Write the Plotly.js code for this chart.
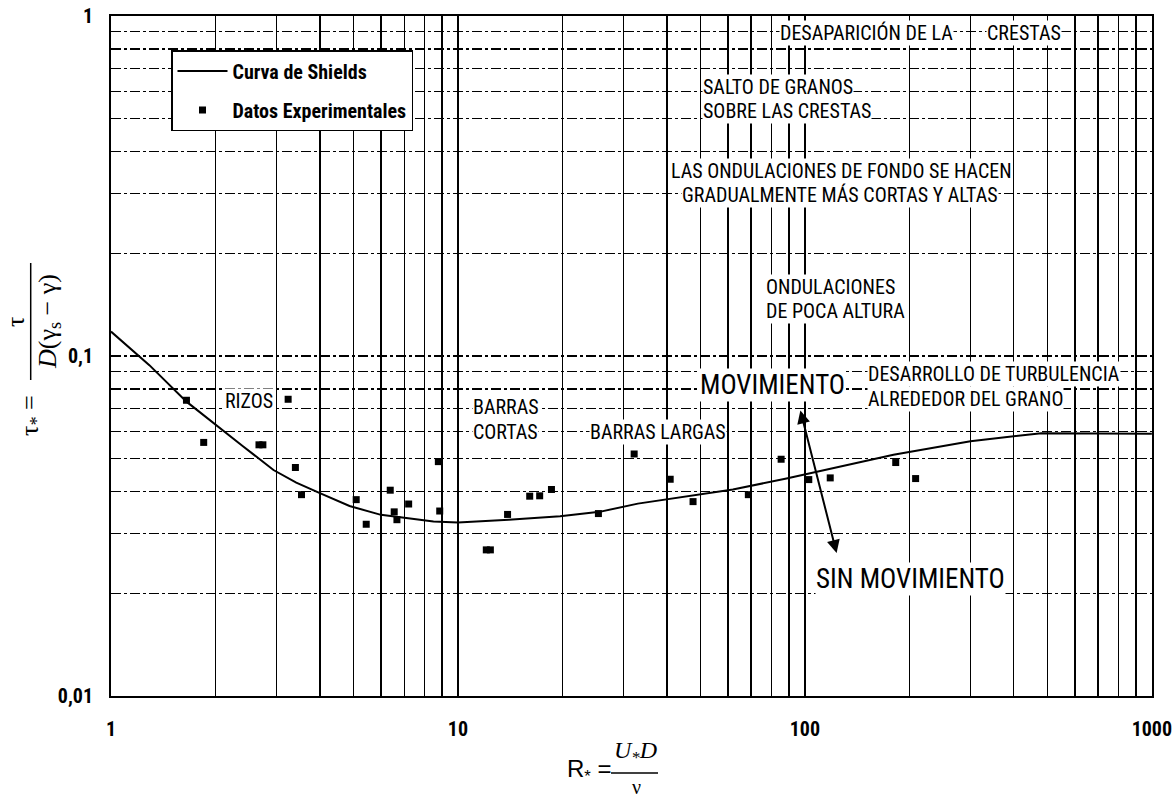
<!DOCTYPE html>
<html>
<head>
<meta charset="utf-8">
<script src="https://cdn.plot.ly/plotly-3.0.1.min.js"></script>
<style>
  html, body { margin: 0; padding: 0; background: #fff; }
  #chart { width: 1172px; height: 802px; }
</style>
</head>
<body>
<div id="chart"></div>
<script>
// ---- Data ----
const shieldsX = [1, 1.29, 1.65, 2, 2.4, 2.94, 3.42, 4, 4.87, 6, 8.5, 10, 14, 19.7, 25.6, 33, 50.6, 62, 88.5, 130, 180, 300, 480, 1000];
const shieldsY = [0.118, 0.094, 0.0734, 0.0627, 0.0543, 0.0462, 0.0424, 0.0395, 0.0362, 0.0341, 0.0326, 0.0324, 0.033, 0.0338, 0.0348, 0.0368, 0.0393, 0.0405, 0.0436, 0.0475, 0.0512, 0.0561, 0.0593, 0.0591];

const expX = [1.65, 1.85, 2.67, 2.74, 3.24, 3.40, 3.54, 5.09, 5.44, 6.38, 6.55, 6.67, 7.21, 8.78, 8.86, 12.07, 12.4, 13.9, 16.1, 17.2, 18.6, 25.4, 32.2, 40.9, 47.6, 68.7, 85.4, 102.6, 118.3, 182.7, 208.5];
const expY = [0.0741, 0.0557, 0.0548, 0.0548, 0.0746, 0.047, 0.0391, 0.0378, 0.032, 0.0403, 0.0348, 0.033, 0.0367, 0.0489, 0.035, 0.0269, 0.0269, 0.0342, 0.0387, 0.0388, 0.0405, 0.0344, 0.0515, 0.0434, 0.0373, 0.0391, 0.0497, 0.0433, 0.0438, 0.0486, 0.0436];

const xTickVals = [1, 10, 100, 1000];
const xTickText = ['1', '10', '100', '1000'];
const xMinorVals = [2,3,4,5,6,7,8,9,20,30,40,50,60,70,80,90,200,300,400,500,600,700,800,900];
const yTickVals = [0.01, 0.1, 1];
const yTickText = ['0,01', '0,1', '1'];
const yMinorVals = [0.02,0.03,0.04,0.05,0.06,0.07,0.08,0.09,0.2,0.3,0.4,0.5,0.6,0.7,0.8,0.9];

const legendNames = ['Curva de Shields', 'Datos Experimentales'];

// ---- Layout helpers (pixel -> paper) ----
const W = 1172, H = 802;
const M = {l: 111, r: 20, t: 16, b: 106};
const PW = W - M.l - M.r, PH = H - M.t - M.b;
const px = v => (v - M.l) / PW;
const py = v => (H - M.b - v) / PH;

const NARROW = '"Roboto Condensed", "DejaVu Sans Condensed", "Liberation Sans", sans-serif';
const SERIF = '"Liberation Serif", "Times New Roman", serif';
const SANS = '"Liberation Sans", Arial, sans-serif';
const annSize = 20, bigSize = 27, tickSize = 20, legSize = 20;

function label(text, x, y, opts) {
  opts = opts || {};
  return {
    text: text, xref: 'paper', yref: 'paper', x: px(x), y: py(y),
    xanchor: opts.anchor || 'center', yanchor: 'middle', showarrow: false,
    font: {family: NARROW, size: opts.size || annSize, color: '#000'},
    bgcolor: '#fff', borderpad: 0
  };
}

const annotations = [
  label('DESAPARICIÓN DE LA', 866, 33),
  label('CRESTAS', 1024, 33),
  label('SALTO DE GRANOS', 702, 87.5, {anchor: 'left'}),
  label('SOBRE LAS CRESTAS', 702, 111.5, {anchor: 'left'}),
  label('LAS ONDULACIONES DE FONDO SE HACEN', 841, 171),
  label('GRADUALMENTE MÁS CORTAS Y ALTAS', 840, 195),
  label('ONDULACIONES', 765, 286.5, {anchor: 'left'}),
  label('DE POCA ALTURA', 765, 310.5, {anchor: 'left'}),
  label('MOVIMIENTO', 772, 385, {size: bigSize}),
  label('DESARROLLO DE TURBULENCIA', 867, 373.5, {anchor: 'left'}),
  label('ALREDEDOR DEL GRANO', 867, 399, {anchor: 'left'}),
  label('RIZOS', 249, 401),
  label('BARRAS', 472, 407.5, {anchor: 'left'}),
  label('CORTAS', 472, 431.5, {anchor: 'left'}),
  label('BARRAS LARGAS', 589, 431.5, {anchor: 'left'}),
  label('SIN MOVIMIENTO', 910, 579, {size: bigSize}),
  // double arrow MOVIMIENTO / SIN MOVIMIENTO
  {text: '', xref: 'paper', yref: 'paper', x: px(836.6), y: py(553),
   ax: -36.6, ay: -144, showarrow: true, arrowhead: 2, startarrowhead: 2,
   arrowside: 'end+start', arrowsize: 1.3, arrowwidth: 2, arrowcolor: '#000'},
  // y-axis title (built from pieces)
  {text: 'τ<sub>*</sub> =', xref: 'paper', yref: 'paper', x: px(31), y: py(416),
   textangle: -90, showarrow: false, xanchor: 'center', yanchor: 'middle',
   font: {family: SERIF, size: 26, color: '#000'}},
  {text: 'τ', xref: 'paper', yref: 'paper', x: px(16), y: py(322),
   textangle: -90, showarrow: false, xanchor: 'center', yanchor: 'middle',
   font: {family: SERIF, size: 26, color: '#000'}},
  {text: '<i>D</i>(γ<sub>s</sub> − γ)', xref: 'paper', yref: 'paper', x: px(49), y: py(322),
   textangle: -90, showarrow: false, xanchor: 'center', yanchor: 'middle',
   font: {family: SERIF, size: 26, color: '#000'}},
  // x-axis title (built from pieces)
  {text: 'R<sub>*</sub> =', xref: 'paper', yref: 'paper', x: px(589), y: py(770),
   showarrow: false, xanchor: 'center', yanchor: 'middle',
   font: {family: SANS, size: 24, color: '#000'}},
  {text: '<i>U<sub>*</sub>D</i>', xref: 'paper', yref: 'paper', x: px(635), y: py(752),
   showarrow: false, xanchor: 'center', yanchor: 'middle',
   font: {family: SERIF, size: 24, color: '#000'}},
  {text: 'ν', xref: 'paper', yref: 'paper', x: px(636), y: py(787),
   showarrow: false, xanchor: 'center', yanchor: 'middle',
   font: {family: SERIF, size: 20, color: '#000'}}
];

const shapes = [
  {type: 'line', xref: 'paper', yref: 'paper', x0: px(30.7), x1: px(30.7), y0: py(263), y1: py(380),
   line: {color: '#000', width: 1.5}},
  {type: 'line', xref: 'paper', yref: 'paper', x0: px(611), x1: px(658), y0: py(773), y1: py(773),
   line: {color: '#000', width: 1.5}}
];

const traces = [
  {x: shieldsX, y: shieldsY, type: 'scatter', mode: 'lines', name: legendNames[0],
   line: {color: '#000', width: 2}, legendgroup: 'a'},
  {x: expX, y: expY, type: 'scatter', mode: 'markers', name: legendNames[1],
   marker: {symbol: 'square', size: 7, color: '#000'}, legendgroup: 'b'}
];

const gridDash = '10px,3px,3px,3px';
const layout = {
  width: W, height: H,
  margin: M,
  paper_bgcolor: '#fff', plot_bgcolor: '#fff',
  showlegend: true,
  legend: {x: px(171), y: py(50), xanchor: 'left', yanchor: 'top',
    bgcolor: '#fff', bordercolor: '#000', borderwidth: 1.5,
    font: {family: NARROW, size: legSize, color: '#000', weight: 'bold'},
    tracegroupgap: 10, traceorder: 'grouped', itemwidth: 50},
  xaxis: {
    type: 'log', range: [0, 3.0004],
    tickvals: xTickVals, ticktext: xTickText, ticks: '',
    tickfont: {family: NARROW, size: tickSize, color: '#000', weight: 'bold'},
    ticklabelstandoff: 14, ticklabeloverflow: 'allow',
    showgrid: true, gridcolor: '#000', gridwidth: 1.4,
    minor: {tickvals: xMinorVals, showgrid: true, gridcolor: '#000', gridwidth: 1.4, ticks: ''},
    showline: true, linecolor: '#000', linewidth: 2, mirror: true, zeroline: false
  },
  yaxis: {
    type: 'log', range: [-2, 0],
    tickvals: yTickVals, ticktext: yTickText, ticks: '',
    tickfont: {family: NARROW, size: tickSize, color: '#000', weight: 'bold'},
    ticklabelstandoff: 12,
    showgrid: true, gridcolor: '#000', gridwidth: 1.2, griddash: gridDash,
    minor: {tickvals: yMinorVals, showgrid: true, gridcolor: '#000', gridwidth: 1.2,
            griddash: gridDash, ticks: ''},
    showline: true, linecolor: '#000', linewidth: 2, mirror: true, zeroline: false
  },
  annotations: annotations,
  shapes: shapes
};

Plotly.newPlot('chart', traces, layout, {displayModeBar: false, staticPlot: true});
</script>
</body>
</html>
